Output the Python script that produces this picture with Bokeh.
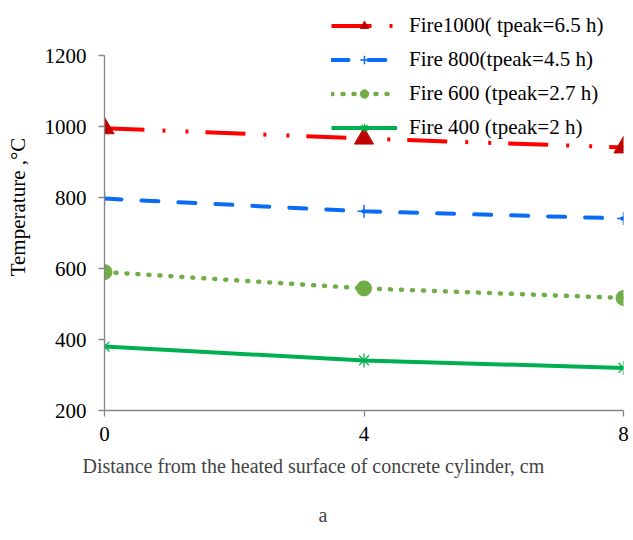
from bokeh.plotting import figure
from bokeh.models import Range1d, FixedTicker, Legend, LegendItem, Title
from bokeh.embed import file_html
from bokeh.resources import INLINE

distance = [0, 4, 8]
fire1000 = [995, 966, 941]
fire800 = [797, 761, 741]
fire600 = [590, 544, 517]
fire400 = [380, 341, 320]
labels = ["Fire1000( tpeak=6.5 h)", "Fire 800(tpeak=4.5 h)",
          "Fire 600 (tpeak=2.7 h)", "Fire 400 (tpeak=2 h)"]
y_ticks = [200, 400, 600, 800, 1000, 1200]
x_ticks = [0, 4, 8]
y_min, y_max = 200, 1200

FONT = "Liberation Serif"

# frame runs from y=3 to y=410 px; 1200 sits at y=55
px_per_unit = 355 / (y_max - y_min)
top_extra = (55 - 3) / px_per_unit

p = figure(width=633, height=540, output_backend="svg", toolbar_location=None,
           x_range=Range1d(0, 8), y_range=Range1d(y_min, y_max + top_extra),
           min_border_left=104, min_border_right=10, min_border_top=3,
           min_border_bottom=130)
p.outline_line_color = None
p.xgrid.visible = False
p.ygrid.visible = False
p.background_fill_color = "white"
p.border_fill_color = "white"

for ax in (p.xaxis[0], p.yaxis[0]):
    ax.axis_line_color = "#868686"
    ax.axis_line_width = 1.3
    ax.major_tick_line_color = "#868686"
    ax.major_tick_line_width = 1.3
    ax.major_tick_out = 6
    ax.major_tick_in = 0
    ax.minor_tick_line_color = None
    ax.major_label_text_font = FONT
    ax.major_label_text_font_size = "21px"
    ax.major_label_text_color = "black"
    ax.axis_label_text_font = FONT
    ax.axis_label_text_font_size = "21px"
    ax.axis_label_text_font_style = "normal"
    ax.axis_label_text_color = "black"

p.yaxis.bounds = (y_min, y_max)
p.xaxis.ticker = FixedTicker(ticks=x_ticks)
p.yaxis.ticker = FixedTicker(ticks=y_ticks)
p.yaxis.axis_label = "Temperature ,°C"
p.xaxis.major_label_standoff = 10
p.yaxis.major_label_standoff = 12
p.yaxis.axis_label_standoff = 12

# Fire 1000
r1l = p.line(distance, fire1000, line_color="#FF0000", line_width=4,
             line_dash="40 18 3 20 3 17")
r1m = p.scatter(distance, fire1000, marker="triangle", size=19,
                fill_color="#C00000", line_color="#C00000")
# Fire 800
r2l = p.line(distance, fire800, line_color="#0A6CF5", line_width=4,
             line_dash="17 20", line_cap="round")
r2m = p.scatter(distance, fire800, marker="cross", size=13,
                line_color="#0A6CF5", line_width=1.5)
# Fire 600
r3l = p.line(distance, fire600, line_color="#70AD47", line_width=4.5,
             line_dash="1 10", line_cap="round")
r3m = p.scatter(distance, fire600, marker="circle", size=15,
                fill_color="#70AD47", line_color="#70AD47")
# Fire 400
r4l = p.line(distance, fire400, line_color="#00B050", line_width=4)
r4m = p.scatter(distance, fire400, marker="asterisk", size=14,
                line_color="#00B050", line_width=1.3)

legend = Legend(items=[
    LegendItem(label=labels[0], renderers=[r1l, r1m]),
    LegendItem(label=labels[1], renderers=[r2l, r2m]),
    LegendItem(label=labels[2], renderers=[r3l, r3m]),
    LegendItem(label=labels[3], renderers=[r4l, r4m]),
], location=(227, 270))
legend.background_fill_alpha = 0
legend.border_line_color = None
legend.label_text_font = FONT
legend.label_text_font_size = "21px"
legend.label_text_color = "black"
legend.glyph_width = 66
legend.glyph_height = 21
legend.label_height = 21
legend.spacing = 9
legend.padding = 5
legend.margin = 0
legend.label_standoff = 12
p.add_layout(legend, "center")

p.add_layout(Title(text="Distance from the heated surface of concrete cylinder, cm",
                   text_font=FONT, text_font_size="20px",
                   text_font_style="normal", align="left", offset=-22,
                   standoff=19), "below")
p.add_layout(Title(text="a", text_font=FONT, text_font_size="20px",
                   text_font_style="normal", align="left", offset=214,
                   standoff=30), "below")

open("out.html", "w").write(file_html(p, INLINE))
